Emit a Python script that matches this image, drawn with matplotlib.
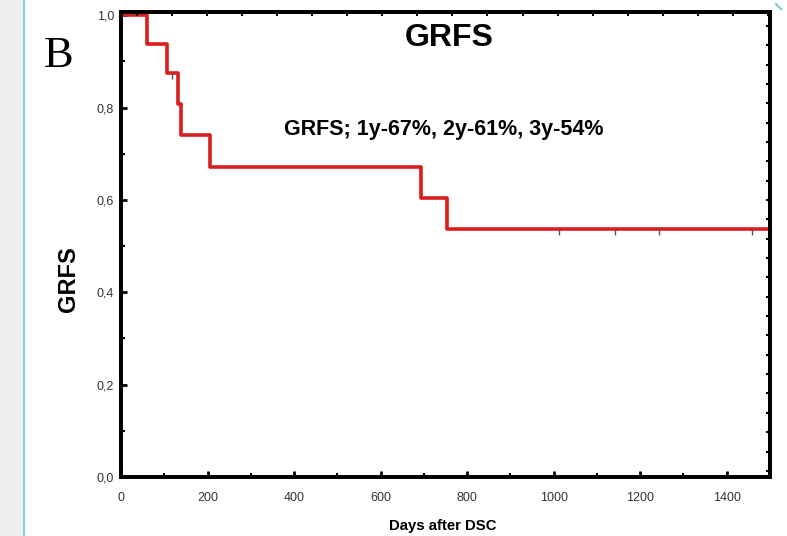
import matplotlib
matplotlib.use("Agg")
import matplotlib.pyplot as plt
import numpy as np
from matplotlib.patches import Rectangle
from matplotlib.lines import Line2D
from matplotlib.ticker import MultipleLocator, FixedLocator, FuncFormatter

plt.rcParams['font.family'] = ['Liberation Sans', 'DejaVu Sans']

# Kaplan-Meier step data (days, survival)
event_days = [0, 59, 107, 132, 138, 206, 694, 754, 1500]
survival = [1.0, 0.938, 0.874, 0.807, 0.740, 0.672, 0.605, 0.538, 0.538]
censor_days = [119, 1013, 1142, 1244, 1458]
censor_surv = [0.874, 0.538, 0.538, 0.538, 0.538]

title = "GRFS"
annotation = "GRFS; 1y-67%, 2y-61%, 3y-54%"
xlabel = "Days after DSC"
ylabel = "GRFS"
panel = "B"

fig = plt.figure(figsize=(7.87, 5.36), dpi=100)
fig.patch.set_facecolor('white')

# decorative left strip
fig.add_artist(Rectangle((0, 0), 23/787, 1, transform=fig.transFigure,
                         facecolor='#eef0f0', edgecolor='none', zorder=0))
fig.add_artist(Line2D([24/787, 24/787], [0, 1], transform=fig.transFigure,
                      color='#8fd2d4', lw=1.5, zorder=1))
fig.add_artist(Line2D([776/787, 781/787], [1-4/536, 1-9/536], transform=fig.transFigure,
                      color='#7cc8cc', lw=1.5, zorder=1))

ax = fig.add_axes([121/787, 1-477/536, (770-121)/787, (477-12)/536])
ax.step(event_days, survival, where='post', color='#d81e1e', lw=2.6, zorder=3)
ax.plot(censor_days, censor_surv, linestyle='none', marker=3, markersize=4,
        markeredgewidth=1.0, color='#555555', zorder=4)

ax.set_xlim(0, 1500)
ax.set_ylim(0, 1.007)

for s in ax.spines.values():
    s.set_linewidth(2.6)
    s.set_color('black')

ax.xaxis.set_major_locator(MultipleLocator(200))
ax.xaxis.set_minor_locator(MultipleLocator(100))
ax.yaxis.set_major_locator(MultipleLocator(0.2))
ax.yaxis.set_minor_locator(MultipleLocator(0.1))
ax.yaxis.set_major_formatter(FuncFormatter(lambda v, p: f"{v:.1f}".replace('.', ',')))

ax.tick_params(axis='both', which='major', direction='in', length=4, width=2,
               labelsize=9, labelcolor='#333333', top=False, right=False)
ax.tick_params(axis='both', which='minor', direction='in', length=3, width=1.5,
               top=False, right=False)
ax.tick_params(axis='x', which='major', pad=11)
ax.tick_params(axis='y', which='major', pad=5)

# secondary (independent) tick marks on top and right like Statistica output
axt = ax.twiny()
axt.set_xlim(0, 1500)
axt.xaxis.set_major_locator(FixedLocator(np.arange(37, 1500, 81)))
axt.tick_params(axis='x', direction='in', length=3, width=1.5, labeltop=False, top=True)
axr = ax.twinx()
axr.set_ylim(0, 1)
axr.yaxis.set_major_locator(FixedLocator(np.arange(0.97, 0.0, -0.0416)))
axr.tick_params(axis='y', direction='in', length=3, width=1.5, labelright=False, right=True)
for a in (axt, axr):
    for s in a.spines.values():
        s.set_linewidth(2.6)

ax.text(0.505, 0.944, title, transform=ax.transAxes, ha='center', va='center',
        fontsize=23, fontweight='bold')
ax.text(0.498, 0.748, annotation, transform=ax.transAxes, ha='center', va='center',
        fontsize=15.5, fontweight='bold')

fig.text(443/787, 1-526/536, xlabel, ha='center', va='center', fontsize=10.7, fontweight='bold')
fig.text(68/787, 1-279/536, ylabel, ha='center', va='center', rotation=90,
         fontsize=17, fontweight='bold')
fig.text(59/787, 1-56/536, panel, ha='center', va='center', fontsize=32,
         family=['Liberation Serif', 'DejaVu Serif'])

fig.savefig('out.png', dpi=100, facecolor=fig.get_facecolor())
